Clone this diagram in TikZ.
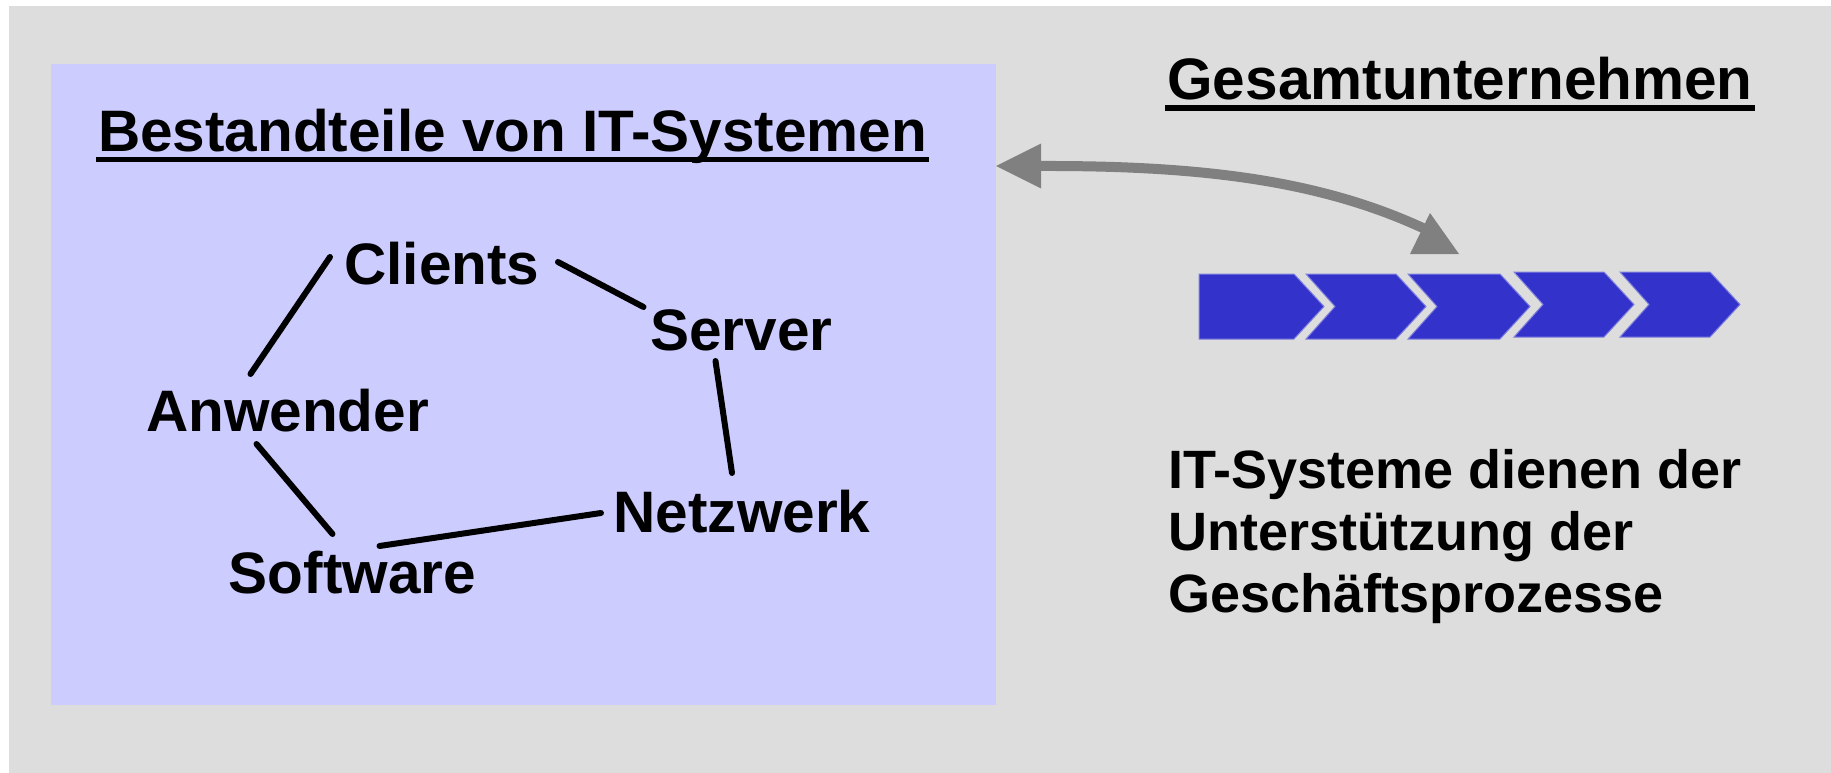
\documentclass[tikz,border=0pt]{standalone}
\usepackage{fontspec}
\setmainfont{Liberation Sans}
\usetikzlibrary{calc}
\definecolor{bggray}{HTML}{DDDDDD}
\definecolor{boxblue}{HTML}{CCCCFF}
\definecolor{chevblue}{HTML}{3333CC}
\definecolor{chevline}{HTML}{8080DD}
\definecolor{arrgray}{HTML}{808080}
\begin{document}
\begin{tikzpicture}[x=1pt,y=-1pt,
  lbl/.style={font=\fontsize{58.5}{70}\selectfont\bfseries, inner sep=0pt, outer sep=0pt, anchor=base},
  bodytext/.style={font=\fontsize{54}{62}\selectfont\bfseries, inner sep=0pt, anchor=base west},
  link/.style={line width=6pt, line cap=round},
  uline/.style={line width=5.5pt},
  chev/.style={fill=chevblue, draw=chevline, line width=1pt, line join=miter},
  arrowline/.style={draw=arrgray, line width=10pt},
  arrowhead/.style={fill=arrgray}]
\useasboundingbox (0,0) rectangle (1831,773);
\fill[white] (0,0) rectangle (1831,773);
\fill[bggray] (9,6) rectangle (1831,773);
\node[fill=boxblue, inner sep=0pt, outer sep=0pt, minimum width=945pt, minimum height=641pt, anchor=north west] (it) at (51,64) {};

% titles
\node[lbl] (title) at (512.5,152) {Bestandteile von IT-Systemen};
\draw[uline] ([shift={(-2,7.5)}]title.base west) -- ([shift={(2,7.5)}]title.base east);
\node[lbl] (gesamt) at (1460,100) {Gesamtunternehmen};
\draw[uline] ([shift={(-2,8)}]gesamt.base west) -- ([shift={(2,8)}]gesamt.base east);

% component nodes
\node[lbl] (clients) at (442,284) {Clients};
\node[lbl] (server) at (741.5,350) {Server};
\node[lbl] (anwender) at (287.5,431) {Anwender};
\node[lbl] (software) at (352.5,593) {Software};
\node[lbl] (netzwerk) at (742,532) {Netzwerk};

\draw[link] ([shift={(-37,-57)}]anwender.base) -- ([shift={(-112,-27)}]clients.base);
\draw[link] ([shift={(116,-22)}]clients.base) -- ([shift={(-98,-43)}]server.base);
\draw[link] ([shift={(-26,11)}]server.base) -- ([shift={(-10,-59)}]netzwerk.base);
\draw[link] ([shift={(-31,13)}]anwender.base) -- ([shift={(-20,-59)}]software.base);
\draw[link] ([shift={(27,-47)}]software.base) -- ([shift={(-141,-19)}]netzwerk.base);

% body text
\node[bodytext] (b1) at (1168,488) {IT-Systeme dienen der};
\node[bodytext] (b2) at (1168,550) {Unterstützung der};
\node[bodytext] (b3) at (1168,612) {Geschäftsprozesse};

% process chevrons
\path[chev] (1199,274) -- (1294,274) -- (1324,306.5) -- (1294,339) -- (1199,339) -- cycle;
\foreach \s/\w/\t in {1306/90/274, 1408/92/274, 1514/90/272, 1620/90/272}{
  \path[chev] (\s,\t) -- ({\s+\w},\t) -- ({\s+\w+30},{\t+32.5}) -- ({\s+\w},{\t+65}) -- (\s,{\t+65}) -- ({\s+29},{\t+32.5}) -- cycle;
}
\coordinate (proc) at (1430,213);

% double arrow between IT box and process
\coordinate (arrL) at (it.east |- {(0,166)});
\fill[arrowhead] (arrL) -- ++(45,-22.5) -- ++(0,45) -- cycle;
\draw[arrowline] ([xshift=44pt]arrL) .. controls (1200,165.5) and (1320,180) .. (1425,229);
\fill[arrowhead] (proc) -- ++(-20,41) -- ++(49,0) -- cycle;
\end{tikzpicture}
\end{document}
